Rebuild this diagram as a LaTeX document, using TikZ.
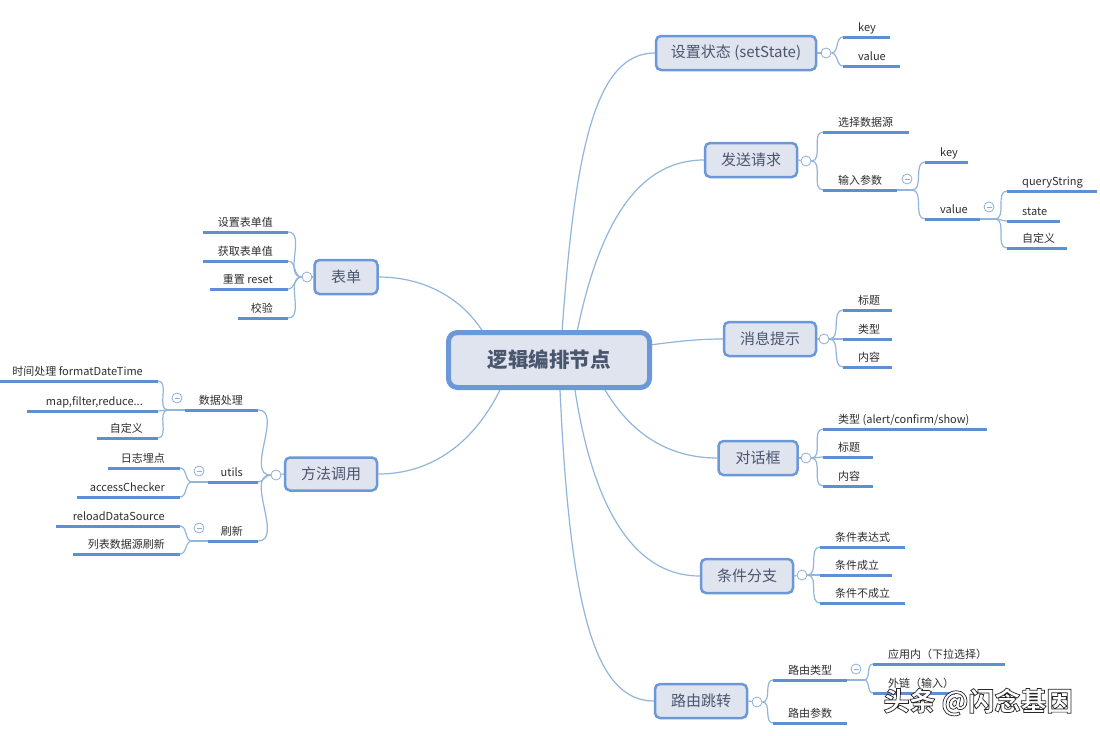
\documentclass[tikz,border=0pt]{standalone}
\usepackage{fontspec}
\setmainfont{Noto Sans CJK SC}
\definecolor{bord}{HTML}{6C98D8}
\definecolor{boxfill}{HTML}{DFE4EF}
\definecolor{boxtext}{HTML}{4A566E}
\definecolor{uline}{HTML}{5E8FD3}
\definecolor{conn}{HTML}{92B5DB}
\definecolor{foldc}{HTML}{8DAFD6}
\definecolor{leaftxt}{HTML}{2E2E2E}
\tikzset{
  mainbox/.style={draw=bord, line width=5pt, fill=boxfill, rounded corners=9pt,
    minimum width=201pt, minimum height=55pt, inner sep=0pt,
    font=\fontsize{20.5}{24}\selectfont\bfseries, text=boxtext},
  topic/.style={draw=bord, line width=2.5pt, fill=boxfill, rounded corners=5pt,
    minimum height=34pt, inner sep=0pt, font=\fontsize{15}{18}\selectfont, text=boxtext},
  leaf/.style={inner sep=0pt, font=\fontsize{11}{13}\selectfont, text=leaftxt},
  uline/.style={draw=uline, line width=3pt},
  link/.style={draw=conn, line width=1.2pt},
  fold/.style={circle, draw=foldc, fill=white, line width=0.8pt, minimum size=10pt, inner sep=0pt},
  foldm/.style={fold, path picture={\draw[foldc, line width=0.7pt]
     ([xshift=-2.5pt]path picture bounding box.center) -- ([xshift=2.5pt]path picture bounding box.center);}},
  wmark/.style={inner sep=0pt, font=\fontsize{26}{30}\selectfont\bfseries},
}
% right-hand leaf: name, x-left, x-right, y, text
\newcommand\rleaf[5]{%
  \coordinate (#1-l) at (#2,#4);
  \coordinate (#1-r) at (#3,#4);
  \draw[uline] (#1-l) -- (#1-r);
  \node[leaf, anchor=base west] (#1) at (#2+15,#4-6) {#5};
}
% left-hand leaf
\newcommand\lleaf[5]{%
  \coordinate (#1-l) at (#2,#4);
  \coordinate (#1-r) at (#3,#4);
  \draw[uline] (#1-l) -- (#1-r);
  \node[leaf, anchor=base east] (#1) at (#3-15,#4-6) {#5};
}
\begin{document}
\begin{tikzpicture}[x=1pt, y=-1pt]
\useasboundingbox (0,0) rectangle (1100,736);
\fill[white] (0,0) rectangle (1100,736);

% ---------- connectors from the central topic ----------
\coordinate (c1) at (562,332);
\coordinate (c2) at (577,332);
\coordinate (c3) at (650,345);
\coordinate (c4) at (605,390);
\coordinate (c5) at (575,390);
\coordinate (c6) at (560,390);
\coordinate (c7) at (483,332);
\coordinate (c8) at (500,390);

\node[topic, minimum width=160pt] (b1) at (736,53) {设置状态 (setState)};
\node[topic, minimum width=92pt] (b2) at (751,160) {发送请求};
\node[topic, minimum width=92pt] (b3) at (770,339) {消息提示};
\node[topic, minimum width=79pt] (b4) at (758,458) {对话框};
\node[topic, minimum width=92pt] (b5) at (747,576) {条件分支};
\node[topic, minimum width=92pt] (b6) at (701,701) {路由跳转};
\node[topic, minimum width=63pt] (b7) at (346,277) {表单};
\node[topic, minimum width=92pt, minimum height=33pt] (b8) at (331,474) {方法调用};

\draw[link] (c1) .. controls (575,150) and (595,53) .. (b1.west);
\draw[link] (c2) .. controls (600,220) and (640,160) .. (b2.west);
\draw[link] (c3) .. controls (680,341) and (700,339) .. (b3.west);
\draw[link] (c4) .. controls (635,440) and (675,458) .. (b4.west);
\draw[link] (c5) .. controls (595,520) and (640,576) .. (b5.west);
\draw[link] (c6) .. controls (570,610) and (595,701) .. (b6.west);
\draw[link] (c7) .. controls (460,295) and (420,277) .. (b7.east);
\draw[link] (c8) .. controls (470,450) and (425,474) .. (b8.east);

\node[mainbox] (root) at (549,360) {逻辑编排节点};

% ---------- 设置状态 ----------
\rleaf{k1}{843}{890}{37}{key}
\rleaf{v1}{843}{900}{66}{value}
\node[fold] (f1) at (826,53) {};
\draw[link] (b1.east) -- (f1);
\draw[link] (f1.east) to[out=0,in=180] (k1-l);
\draw[link] (f1.east) to[out=0,in=180] (v1-l);

% ---------- 发送请求 ----------
\rleaf{s1}{823}{909}{132}{选择数据源}
\rleaf{s2}{823}{897}{190}{输入参数}
\rleaf{s21}{925}{968}{162}{key}
\rleaf{s22}{925}{980}{219}{value}
\rleaf{s221}{1007}{1097}{191}{queryString}
\rleaf{s222}{1007}{1060}{221}{state}
\rleaf{s223}{1007}{1067}{248}{自定义}
\node[fold] (f2) at (806,161) {};
\draw[link] (b2.east) -- (f2);
\draw[link] (f2.east) to[out=0,in=180] (s1-l);
\draw[link] (f2.east) to[out=0,in=180] (s2-l);
\coordinate (p3) at (912,190);
\draw[link] (s2-r) -- (p3);
\draw[link] (p3) to[out=0,in=180] (s21-l);
\draw[link] (p3) to[out=0,in=180] (s22-l);
\node[foldm] (f3) at (907,179) {};
\coordinate (p4) at (995,219);
\draw[link] (s22-r) -- (p4);
\draw[link] (p4) to[out=0,in=180] (s221-l);
\draw[link] (p4) to[out=0,in=180] (s222-l);
\draw[link] (p4) to[out=0,in=180] (s223-l);
\node[foldm] (f4) at (989,207) {};

% ---------- 消息提示 ----------
\rleaf{m1}{843}{892}{310}{标题}
\rleaf{m2}{843}{892}{339}{类型}
\rleaf{m3}{843}{892}{367}{内容}
\node[fold] (f5) at (824,339) {};
\draw[link] (b3.east) -- (f5);
\draw[link] (f5.east) to[out=0,in=180] (m1-l);
\draw[link] (f5.east) to[out=0,in=180] (m2-l);
\draw[link] (f5.east) to[out=0,in=180] (m3-l);

% ---------- 对话框 ----------
\rleaf{d1}{823}{987}{429}{类型 (alert/confirm/show)}
\rleaf{d2}{823}{873}{457}{标题}
\rleaf{d3}{823}{873}{486}{内容}
\node[fold] (f6) at (806,458) {};
\draw[link] (b4.east) -- (f6);
\draw[link] (f6.east) to[out=0,in=180] (d1-l);
\draw[link] (f6.east) to[out=0,in=180] (d2-l);
\draw[link] (f6.east) to[out=0,in=180] (d3-l);

% ---------- 条件分支 ----------
\rleaf{t1}{820}{905}{547}{条件表达式}
\rleaf{t2}{820}{892}{575}{条件成立}
\rleaf{t3}{820}{905}{603}{条件不成立}
\node[fold] (f7) at (802,575) {};
\draw[link] (b5.east) -- (f7);
\draw[link] (f7.east) to[out=0,in=180] (t1-l);
\draw[link] (f7.east) to[out=0,in=180] (t2-l);
\draw[link] (f7.east) to[out=0,in=180] (t3-l);

% ---------- 路由跳转 ----------
\rleaf{r1}{773}{847}{680}{路由类型}
\rleaf{r2}{773}{847}{723}{路由参数}
\rleaf{r11}{873}{1005}{664}{应用内（下拉选择）}
\rleaf{r12}{873}{955}{693}{外链（输入）}
\node[fold] (f8) at (757,702) {};
\draw[link] (b6.east) -- (f8);
\draw[link] (f8.east) to[out=0,in=180] (r1-l);
\draw[link] (f8.east) to[out=0,in=180] (r2-l);
\coordinate (p9) at (864,680);
\draw[link] (r1-r) -- (p9);
\draw[link] (p9) to[out=0,in=180] (r11-l);
\draw[link] (p9) to[out=0,in=180] (r12-l);
\node[foldm] (f9) at (856,669) {};

% ---------- 表单 ----------
\lleaf{a1}{203}{288}{232}{设置表单值}
\lleaf{a2}{203}{288}{261}{获取表单值}
\lleaf{a3}{210}{288}{289}{重置 reset}
\lleaf{a4}{238}{288}{318}{校验}
\node[fold] (f10) at (307,277) {};
\draw[link] (b7.west) -- (f10);
\draw[link] (f10.west) to[out=180,in=0] (a1-r);
\draw[link] (f10.west) to[out=180,in=0] (a2-r);
\draw[link] (f10.west) to[out=180,in=0] (a3-r);
\draw[link] (f10.west) to[out=180,in=0] (a4-r);

% ---------- 方法调用 ----------
\lleaf{h1}{185}{258}{410}{数据处理}
\lleaf{h2}{208}{258}{482}{utils}
\lleaf{h3}{208}{258}{541}{刷新}
\lleaf{h11}{0}{158}{381}{时间处理 formatDateTime}
\lleaf{h12}{27}{158}{411}{map,filter,reduce...}
\lleaf{h13}{97}{158}{438}{自定义}
\lleaf{h21}{108}{180}{468}{日志埋点}
\lleaf{h22}{77}{180}{497}{accessChecker}
\lleaf{h31}{56}{180}{526}{reloadDataSource}
\lleaf{h32}{73}{180}{554}{列表数据源刷新}
\node[fold] (f11) at (276,475) {};
\draw[link] (b8.west) -- (f11);
\draw[link] (f11.west) to[out=180,in=0] (h1-r);
\draw[link] (f11.west) to[out=180,in=0] (h2-r);
\draw[link] (f11.west) to[out=180,in=0] (h3-r);
\coordinate (p12) at (168,410);
\draw[link] (h1-l) -- (p12);
\draw[link] (p12) to[out=180,in=0] (h11-r);
\draw[link] (p12) to[out=180,in=0] (h12-r);
\draw[link] (p12) to[out=180,in=0] (h13-r);
\node[foldm] (f12) at (177,398) {};
\coordinate (p13) at (192,482);
\draw[link] (h2-l) -- (p13);
\draw[link] (p13) to[out=180,in=0] (h21-r);
\draw[link] (p13) to[out=180,in=0] (h22-r);
\node[foldm] (f13) at (199,471) {};
\coordinate (p14) at (192,541);
\draw[link] (h3-l) -- (p14);
\draw[link] (p14) to[out=180,in=0] (h31-r);
\draw[link] (p14) to[out=180,in=0] (h32-r);
\node[foldm] (f14) at (199,528) {};

% ---------- watermark (white letters, dark outline) ----------
\node[wmark] (wm) at (978,702) {\color{white}\special{pdf:literal direct 0.15 G 0.7 w 2 Tr}头条 @闪念基因\special{pdf:literal direct 0 Tr}};
\end{tikzpicture}
\end{document}
